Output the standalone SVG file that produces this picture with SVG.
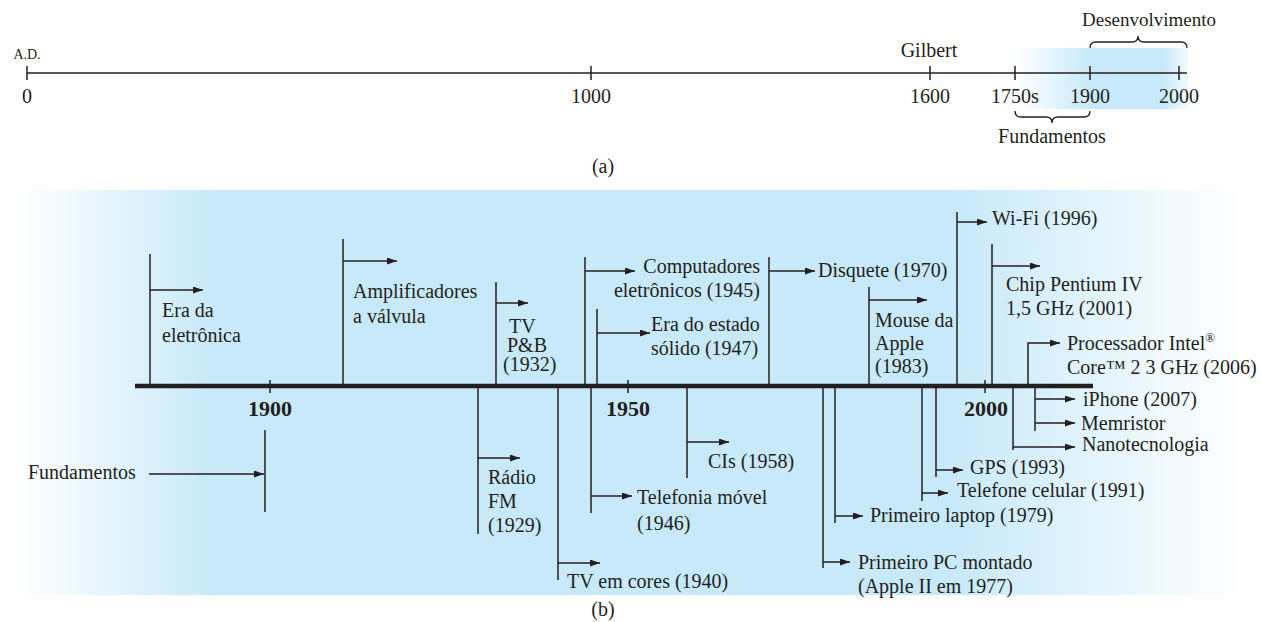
<svg xmlns="http://www.w3.org/2000/svg" width="1261" height="622" viewBox="0 0 1261 622" font-family="Liberation Serif, DejaVu Serif, serif">
<defs>
<linearGradient id="gA" x1="1015" y1="0" x2="1188" y2="0" gradientUnits="userSpaceOnUse">
<stop offset="0" stop-color="#ffffff"/>
<stop offset="0.44" stop-color="#c7e9f9"/>
<stop offset="0.86" stop-color="#c7e9f9"/>
<stop offset="1" stop-color="#f2fafe"/>
</linearGradient>
<linearGradient id="gB" x1="15" y1="0" x2="1245" y2="0" gradientUnits="userSpaceOnUse">
<stop offset="0" stop-color="#ffffff"/>
<stop offset="0.163" stop-color="#c7e9f9"/>
<stop offset="0.76" stop-color="#c7e9f9"/>
<stop offset="1" stop-color="#ffffff"/>
</linearGradient>
<marker id="ah" markerUnits="userSpaceOnUse" markerWidth="11" markerHeight="8" refX="10" refY="3.5" orient="auto">
<path d="M0,0 L10,3.5 L0,7 z" fill="#231f20"/>
</marker>
</defs>
<style>
text{font-family:'Liberation Serif','DejaVu Serif',serif;fill:#231f20;font-size:20px}
.sm{font-size:14px}
.yr{font-size:22px;font-weight:bold}
.ln{stroke:#231f20;stroke-width:1.5;fill:none}
.ar{stroke:#231f20;stroke-width:1.5;fill:none;marker-end:url(#ah)}
.br{stroke:#231f20;stroke-width:1.3;fill:none}
</style>

<g id="partA">
<rect x="1015" y="48" width="173" height="61" fill="url(#gA)"/>
<line class="ln" x1="27" y1="73" x2="1187" y2="73" stroke-width="1.3"/>
<g class="ln">
<line x1="27" y1="66" x2="27" y2="80"/>
<line x1="591" y1="66" x2="591" y2="80"/>
<line x1="930" y1="66" x2="930" y2="80"/>
<line x1="1015" y1="66" x2="1015" y2="80"/>
<line x1="1090" y1="66" x2="1090" y2="80"/>
<line x1="1179" y1="66" x2="1179" y2="80"/>
</g>
<text class="sm" x="27" y="59" text-anchor="middle">A.D.</text>
<text x="27" y="103" text-anchor="middle">0</text>
<text x="591" y="103" text-anchor="middle">1000</text>
<text x="930" y="103" text-anchor="middle">1600</text>
<text x="1015" y="103" text-anchor="middle">1750s</text>
<text x="1090" y="103" text-anchor="middle">1900</text>
<text x="1179" y="103" text-anchor="middle">2000</text>
<text x="929" y="57" text-anchor="middle">Gilbert</text>
<path class="br" d="M1090,48 Q1090,42 1096,42 H1132 Q1138,42 1138,36 Q1138,42 1144,42 H1181 Q1187,42 1187,48"/>
<text x="1149" y="26" text-anchor="middle" style="font-size:19px">Desenvolvimento</text>
<path class="br" d="M1015,111 Q1015,117 1021,117 H1046 Q1052,117 1052,123 Q1052,117 1058,117 H1084 Q1090,117 1090,111"/>
<text x="1052" y="143" text-anchor="middle">Fundamentos</text>
<text x="603" y="173" text-anchor="middle">(a)</text>
</g>

<g id="partB">
<rect x="15" y="190" width="1230" height="405" fill="url(#gB)"/>
<line x1="135" y1="386" x2="1093" y2="386" stroke="#231f20" stroke-width="4.5"/>
<g class="ln">
<line x1="270" y1="380" x2="270" y2="393"/>
<line x1="628" y1="380" x2="628" y2="393"/>
<line x1="985" y1="380" x2="985" y2="393"/>
</g>
<text class="yr" x="270" y="416" text-anchor="middle">1900</text>
<text class="yr" x="628" y="416" text-anchor="middle">1950</text>
<text class="yr" x="986" y="416" text-anchor="middle">2000</text>
<text x="603" y="616" text-anchor="middle">(b)</text>
</g>

<g id="connectors">
<line class="ln" x1="150" y1="254" x2="150" y2="387"/>
<line class="ar" x1="150" y1="290" x2="203" y2="290"/>
<line class="ln" x1="343" y1="239" x2="343" y2="387"/>
<line class="ar" x1="343" y1="261" x2="397" y2="261"/>
<line class="ln" x1="496" y1="282" x2="496" y2="387"/>
<line class="ar" x1="496" y1="303" x2="528" y2="303"/>
<line class="ln" x1="585" y1="257" x2="585" y2="387"/>
<line class="ar" x1="585" y1="271" x2="635" y2="271"/>
<line class="ln" x1="597" y1="309" x2="597" y2="387"/>
<line class="ar" x1="597" y1="333" x2="650" y2="333"/>
<line class="ln" x1="769" y1="257" x2="769" y2="387"/>
<line class="ar" x1="769" y1="271" x2="815" y2="271"/>
<line class="ln" x1="869" y1="287" x2="869" y2="387"/>
<line class="ar" x1="869" y1="300" x2="927" y2="300"/>
<line class="ln" x1="957" y1="212" x2="957" y2="387"/>
<line class="ar" x1="957" y1="222" x2="987" y2="222"/>
<line class="ln" x1="992" y1="244" x2="992" y2="387"/>
<line class="ar" x1="992" y1="266" x2="1040" y2="266"/>
<path class="ar" d="M1028,387 V343 H1060"/>

<line class="ln" x1="265" y1="430" x2="265" y2="512"/>
<line class="ar" x1="149" y1="474" x2="264" y2="474"/>
<line class="ln" x1="478" y1="386" x2="478" y2="534"/>
<line class="ar" x1="478" y1="458" x2="520" y2="458"/>
<line class="ln" x1="558" y1="386" x2="558" y2="580"/>
<line class="ar" x1="558" y1="563" x2="600" y2="563"/>
<line class="ln" x1="591" y1="386" x2="591" y2="513"/>
<line class="ar" x1="591" y1="496" x2="632" y2="496"/>
<line class="ln" x1="687" y1="386" x2="687" y2="478"/>
<line class="ar" x1="687" y1="442" x2="729" y2="442"/>
<line class="ln" x1="823" y1="386" x2="823" y2="568"/>
<line class="ar" x1="823" y1="562" x2="850" y2="562"/>
<line class="ln" x1="835" y1="386" x2="835" y2="523"/>
<line class="ar" x1="835" y1="516" x2="863" y2="516"/>
<line class="ln" x1="922" y1="386" x2="922" y2="501"/>
<line class="ar" x1="922" y1="493" x2="948" y2="493"/>
<line class="ln" x1="936" y1="386" x2="936" y2="477"/>
<line class="ar" x1="936" y1="470" x2="963" y2="470"/>
<line class="ln" x1="1013" y1="386" x2="1013" y2="450"/>
<line class="ar" x1="1013" y1="447" x2="1075" y2="447"/>
<line class="ln" x1="1035" y1="386" x2="1035" y2="431"/>
<line class="ar" x1="1035" y1="399" x2="1075" y2="399"/>
<line class="ar" x1="1035" y1="423" x2="1075" y2="423"/>
</g>

<g id="n-era"><text x="162" y="317">Era da</text><text x="162" y="342">eletrônica</text></g>
<g id="n-ampl"><text x="353" y="298">Amplificadores</text><text x="353" y="323">a válvula</text></g>
<g id="n-tvpb"><text x="509" y="333">TV</text><text x="507" y="352">P&amp;B</text><text x="503" y="371">(1932)</text></g>
<g id="n-comp"><text x="760" y="273" text-anchor="end">Computadores</text><text x="760" y="297" text-anchor="end">eletrônicos (1945)</text></g>
<g id="n-solido"><text x="651" y="331">Era do estado</text><text x="651" y="355">sólido (1947)</text></g>
<g id="n-disquete"><text x="818" y="277">Disquete (1970)</text></g>
<g id="n-mouse"><text x="875" y="327">Mouse da</text><text x="875" y="350">Apple</text><text x="875" y="373">(1983)</text></g>
<g id="n-wifi"><text x="992" y="225">Wi-Fi (1996)</text></g>
<g id="n-pentium"><text x="1006" y="291">Chip Pentium IV</text><text x="1006" y="315">1,5 GHz (2001)</text></g>
<g id="n-intel"><text x="1067" y="350">Processador Intel<tspan font-size="13" dy="-8">®</tspan></text><text x="1067" y="374">Core™ 2 3 GHz (2006)</text></g>

<g id="n-fund"><text x="28" y="479">Fundamentos</text></g>
<g id="n-radio"><text x="488" y="484">Rádio</text><text x="488" y="508">FM</text><text x="488" y="532">(1929)</text></g>
<g id="n-tvcores"><text x="567" y="588">TV em cores (1940)</text></g>
<g id="n-telefonia"><text x="637" y="504">Telefonia móvel</text><text x="637" y="530">(1946)</text></g>
<g id="n-cis"><text x="708" y="468">CIs (1958)</text></g>
<g id="n-pc"><text x="858" y="569">Primeiro PC montado</text><text x="858" y="593">(Apple II em 1977)</text></g>
<g id="n-laptop"><text x="870" y="522">Primeiro laptop (1979)</text></g>
<g id="n-celular"><text x="957" y="497">Telefone celular (1991)</text></g>
<g id="n-gps"><text x="970" y="474">GPS (1993)</text></g>
<g id="n-nano"><text x="1082" y="451">Nanotecnologia</text></g>
<g id="n-memr"><text x="1081" y="430">Memristor</text></g>
<g id="n-iphone"><text x="1083" y="406">iPhone (2007)</text></g>
</svg>
